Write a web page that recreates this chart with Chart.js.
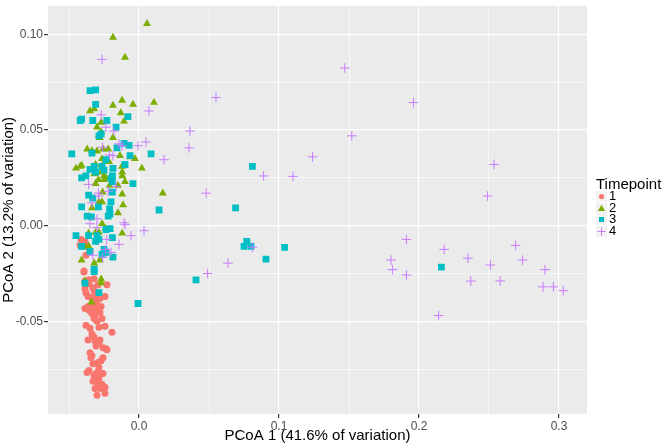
<!DOCTYPE html>
<html>
<head>
<meta charset="utf-8">
<script src="https://cdn.jsdelivr.net/npm/chart.js@4/dist/chart.umd.min.js"></script>
<style>
  body { margin: 0; background: #fff; font-family: "Liberation Sans", Arial, sans-serif; }
  #wrap { position: relative; width: 666px; height: 445px; }
  #legend { position: absolute; left: 596px; top: 176px; color: #000; }
  #legend .title { font-size: 15px; line-height: 15px; white-space: nowrap; }
  #legend .row { position: absolute; left: 0; height: 11px; width: 40px; }
  #legend .row svg { position: absolute; left: 0; top: 0; }
  #legend .row span { position: absolute; left: 13px; top: -2px; font-size: 13px; line-height: 14px; }
</style>
</head>
<body>
<div id="wrap">
  <canvas id="pcoa" width="666" height="445"></canvas>
  <div id="legend"></div>
</div>
<script>
// Timepoint groups, each point is [PCoA 1, PCoA 2]
const timepoints = ['1', '2', '3', '4'];
const colors = ['#F8766D', '#7CAE00', '#00BFC4', '#C77CFF'];
const shapes = ['circle', 'triangle', 'rect', 'cross'];

const timepoint1 = [
  [-0.0414,-0.0072],[-0.0386,-0.0082],[-0.0379,-0.0098],[-0.0371,-0.0108],[-0.0421,-0.0103],
  [-0.035,-0.0134],[-0.0379,-0.0155],[-0.0393,-0.0237],[-0.0393,-0.0242],[-0.0386,-0.0289],
  [-0.0357,-0.0304],[-0.0293,-0.0309],[-0.0229,-0.0309],[-0.0386,-0.033],[-0.0379,-0.0351],
  [-0.0329,-0.0325],[-0.0321,-0.034],[-0.0293,-0.0351],[-0.0364,-0.0371],[-0.0314,-0.0371],
  [-0.0243,-0.0371],[-0.0343,-0.0376],[-0.0329,-0.0387],[-0.0307,-0.0392],[-0.03,-0.0381],
  [-0.0279,-0.0381],[-0.0364,-0.0423],[-0.0336,-0.0423],[-0.0293,-0.0418],[-0.0271,-0.0423],
  [-0.0386,-0.0433],[-0.0357,-0.0443],[-0.0321,-0.0433],[-0.0336,-0.0459],[-0.0307,-0.0448],
  [-0.0279,-0.0454],[-0.0321,-0.0485],[-0.03,-0.05],[-0.0314,-0.0469],[-0.0264,-0.0485],
  [-0.0379,-0.0521],[-0.0286,-0.0531],[-0.035,-0.0536],[-0.0243,-0.0526],[-0.0193,-0.0557],
  [-0.0336,-0.0567],[-0.0321,-0.0582],[-0.0364,-0.0598],[-0.0314,-0.0603],[-0.0279,-0.0598],
  [-0.0286,-0.0613],[-0.0307,-0.0629],[-0.0257,-0.0639],[-0.0236,-0.0644],[-0.0229,-0.0649],
  [-0.035,-0.0665],[-0.0336,-0.068],[-0.0343,-0.0691],[-0.0257,-0.0691],[-0.0293,-0.0716],
  [-0.0329,-0.0722],[-0.0271,-0.0706],[-0.0371,-0.0768],[-0.0357,-0.0758],[-0.0293,-0.0763],
  [-0.0286,-0.0742],[-0.0307,-0.0773],[-0.0279,-0.0773],[-0.0257,-0.0773],[-0.0321,-0.0784],
  [-0.03,-0.0784],[-0.0286,-0.0799],[-0.0307,-0.0804],[-0.0293,-0.0825],[-0.0329,-0.0814],
  [-0.0264,-0.083],[-0.0243,-0.0845],[-0.0314,-0.0851],[-0.0279,-0.0851],[-0.03,-0.0887],
  [-0.0243,-0.0876],[-0.0357,-0.0283],[-0.0321,-0.0278]
];

const timepoint2 = [
  [0.0057,0.1057],[-0.0186,0.0985],[-0.010,0.088],[0.0107,0.0644],[-0.0121,0.0655],
  [-0.0043,0.0634],[-0.0186,0.0629],[-0.035,0.060],[-0.032,0.061],[-0.013,0.059],
  [-0.027,0.054],[-0.0107,0.0546],[-0.030,0.0515],[-0.027,0.049],[-0.0286,0.0474],
  [-0.028,0.046],[-0.0186,0.046],[-0.037,0.040],[-0.030,0.039],[-0.0257,0.040],
  [-0.022,0.040],[-0.0336,0.0392],[-0.0136,0.0366],[-0.0064,0.036],[-0.0029,0.035],
  [-0.0264,0.035],[-0.024,0.034],[-0.0214,0.0335],[-0.045,0.030],[-0.042,0.031],
  [-0.041,0.0315],[-0.0121,0.031],[-0.012,0.028],[-0.012,0.026],[0.002,0.030],
  [-0.031,0.032],[-0.032,0.027],[-0.027,0.028],[-0.025,0.026],[-0.0236,0.025],
  [-0.025,0.024],[-0.029,0.024],[-0.031,0.022],[-0.010,0.023],[-0.021,0.021],
  [-0.015,0.021],[0.017,0.017],[-0.012,0.0165],[-0.026,0.0175],[-0.0286,0.0124],
  [-0.0264,0.0124],[-0.0114,0.0108],[-0.0336,0.0093],[-0.015,0.0067],[-0.0264,0.001],
  [-0.036,-0.004],[-0.031,-0.0036],[-0.0286,-0.0036],[-0.024,-0.0015],[-0.021,-0.002],
  [-0.012,-0.004],[-0.0386,-0.0113],[-0.036,-0.0108],[-0.0236,-0.013],[-0.041,-0.018],
  [-0.032,-0.0196],[-0.028,-0.018],[-0.0386,-0.029],[-0.027,-0.028],[-0.027,-0.030],
  [-0.034,-0.040]
];

const timepoint3 = [
  [-0.035,0.0706],[-0.031,0.071],[-0.031,0.0634],[-0.042,0.055],[-0.041,0.0557],
  [-0.033,0.055],[-0.023,0.055],[-0.0079,0.057],[-0.0164,0.0515],[-0.027,0.048],
  [-0.0286,0.047],[-0.0107,0.043],[-0.0071,0.042],[-0.0157,0.0407],[-0.048,0.0376],
  [-0.0336,0.038],[0.0086,0.0376],[-0.0064,0.0366],[-0.0236,0.0345],[-0.010,0.032],
  [-0.032,0.031],[-0.035,0.0294],[-0.0264,0.031],[-0.025,0.029],[-0.0186,0.030],
  [-0.041,0.025],[-0.038,0.026],[-0.031,0.028],[-0.019,0.026],[-0.020,0.0247],
  [-0.019,0.023],[-0.0043,0.022],[-0.036,0.016],[-0.033,0.0144],[-0.019,0.0175],
  [-0.020,0.0124],[-0.041,0.0098],[-0.029,0.0098],[-0.021,0.0088],[0.0143,0.0082],
  [0.069,0.0093],[0.081,0.031],[-0.037,0.005],[-0.034,0.0046],[-0.022,0.005],
  [-0.0207,0.006],[-0.045,-0.0052],[-0.041,-0.0108],[-0.036,-0.0052],[-0.030,-0.0052],
  [-0.0286,-0.0072],[-0.0207,-0.0015],[-0.0236,-0.002],[-0.019,-0.0062],[-0.031,-0.0082],
  [-0.035,-0.0134],[-0.025,-0.0124],[-0.0236,-0.014],[-0.0264,-0.015],[-0.0186,-0.0165],
  [-0.032,-0.0227],[-0.032,-0.024],[-0.0386,-0.030],[-0.0286,-0.035],[-0.0007,-0.0407],
  [0.0407,-0.0284],[0.077,-0.0082],[0.075,-0.0108],[0.080,-0.0108],[0.0907,-0.0175],
  [0.104,-0.0113],[0.216,-0.0217]
];

const timepoint4 = [
  [-0.0264,0.087],[0.055,0.067],[0.0071,0.060],[-0.027,0.058],[-0.0236,0.0515],
  [-0.018,0.0495],[0.0364,0.0495],[0.005,0.0438],[-0.0007,0.0418],[0.0357,0.0407],
  [-0.0143,0.0428],[-0.012,0.0418],[-0.026,0.041],[-0.021,0.037],[-0.0186,0.0366],
  [0.124,0.036],[0.0179,0.0345],[0.089,0.026],[0.110,0.0258],[-0.036,0.0216],
  [0.048,0.017],[-0.029,0.017],[-0.0286,0.0155],[-0.0164,0.0206],[-0.022,0.018],
  [-0.0336,0.0119],[-0.030,0.0036],[-0.0107,0.0015],[0.147,0.0825],[0.196,0.0644],
  [0.152,0.047],[0.2536,0.032],[0.249,0.0155],[0.191,-0.0072],[0.218,-0.0124],
  [0.180,-0.018],[0.181,-0.023],[0.191,-0.0258],[0.235,-0.017],[0.251,-0.0206],
  [0.237,-0.029],[0.258,-0.0289],[0.269,-0.0103],[0.274,-0.018],[0.290,-0.023],
  [0.2886,-0.032],[0.296,-0.032],[0.303,-0.034],[0.214,-0.047],[-0.035,0.001],
  [-0.030,-0.001],[-0.010,0.0005],[-0.0057,-0.0052],[0.0036,-0.0026],[-0.023,-0.0072],
  [-0.0143,-0.0098],[-0.033,-0.0155],[-0.026,-0.0165],[-0.020,-0.014],[-0.024,-0.0124],
  [0.0636,-0.0196],[0.049,-0.025],[0.081,-0.0113]
];

const xTicks = [-0.05, 0, 0.05, 0.1, 0.15, 0.2, 0.25, 0.3];
const yTicks = [-0.075, -0.05, -0.025, 0, 0.025, 0.05, 0.075, 0.1];
const xMajor = [0, 0.1, 0.2, 0.3];
const yMajor = [-0.05, 0, 0.05, 0.1];

const groups = [timepoint1, timepoint2, timepoint3, timepoint4];
const radii = [3.5, 4.6, 4.8, 4.8];

function isMajor(list, v) {
  return list.some(m => Math.abs(m - v) < 1e-9);
}

// grey ggplot panel
const panelBg = {
  id: 'panelBg',
  beforeDraw(chart) {
    const {ctx, chartArea: a} = chart;
    ctx.save();
    ctx.fillStyle = '#EBEBEB';
    ctx.fillRect(a.left, a.top, a.width, a.height);
    ctx.restore();
  }
};

const datasets = groups.map((pts, i) => ({
  label: timepoints[i],
  data: pts.map(p => ({x: p[0], y: p[1]})),
  pointStyle: shapes[i],
  pointRadius: radii[i],
  backgroundColor: colors[i],
  borderColor: colors[i],
  borderWidth: shapes[i] === 'cross' ? 1 : 0,
  order: 3 - i
}));

function gridFor(major) {
  return {
    color: '#FFFFFF',
    lineWidth: c => isMajor(major, c.tick.value) ? 1.2 : 0.6,
    tickColor: c => isMajor(major, c.tick.value) ? '#333333' : 'rgba(0,0,0,0)',
    tickLength: 4,
    drawTicks: true
  };
}

new Chart(document.getElementById('pcoa'), {
  type: 'scatter',
  data: { datasets: datasets },
  plugins: [panelBg],
  options: {
    responsive: false,
    animation: false,
    layout: { padding: { left: 0, right: 79, top: 0, bottom: 0 } },
    plugins: {
      legend: { display: false },
      tooltip: { enabled: false }
    },
    scales: {
      x: {
        type: 'linear',
        min: -0.065,
        max: 0.32,
        afterBuildTicks: s => { s.ticks = xTicks.map(v => ({value: v})); },
        afterFit: s => { s.height = 31; s.paddingLeft = 0; s.paddingRight = 0; },
        grid: gridFor(xMajor),
        border: { display: false },
        ticks: {
          autoSkip: false,
          maxRotation: 0,
          padding: 1,
          color: '#4D4D4D',
          font: { family: 'Liberation Sans', size: 12 },
          callback: v => isMajor(xMajor, v) ? v.toFixed(1) : ''
        },
        title: {
          display: true,
          text: 'PCoA 1 (41.6% of variation)',
          color: '#000',
          font: { family: 'Liberation Sans', size: 15 },
          padding: { top: 0, bottom: 0 }
        }
      },
      y: {
        type: 'linear',
        min: -0.0985,
        max: 0.115,
        afterBuildTicks: s => { s.ticks = yTicks.map(v => ({value: v})); },
        afterFit: s => { s.width = 48; s.paddingTop = 0; s.paddingBottom = 0; },
        grid: gridFor(yMajor),
        border: { display: false },
        ticks: {
          autoSkip: false,
          padding: 1,
          color: '#4D4D4D',
          font: { family: 'Liberation Sans', size: 12 },
          callback: v => isMajor(yMajor, v) ? v.toFixed(2) : ''
        },
        title: {
          display: true,
          text: 'PCoA 2 (13.2% of variation)',
          color: '#000',
          font: { family: 'Liberation Sans', size: 15 },
          padding: { top: 0, bottom: 0 }
        }
      }
    }
  }
});

// legend in the ggplot style
const legendMarks = [
  '<circle cx="5.5" cy="5.5" r="2.6" fill="' + colors[0] + '"/>',
  '<polygon points="5.5,1.8 9.1,8 1.9,8" fill="' + colors[1] + '"/>',
  '<rect x="3" y="3" width="5" height="5" fill="' + colors[2] + '"/>',
  '<path d="M1.5 5.5 H9.5 M5.5 1.5 V9.5" stroke="' + colors[3] + '" stroke-width="1"/>'
];
let html = '<div class="title">Timepoint</div>';
timepoints.forEach((t, i) => {
  const top = 15 + i * 11.6;
  html += '<div class="row" style="top:' + top + 'px">' +
    '<svg width="11" height="11"><rect width="11" height="11" fill="#F2F2F2"/>' + legendMarks[i] + '</svg>' +
    '<span>' + t + '</span></div>';
});
document.getElementById('legend').innerHTML = html;
</script>
</body>
</html>
